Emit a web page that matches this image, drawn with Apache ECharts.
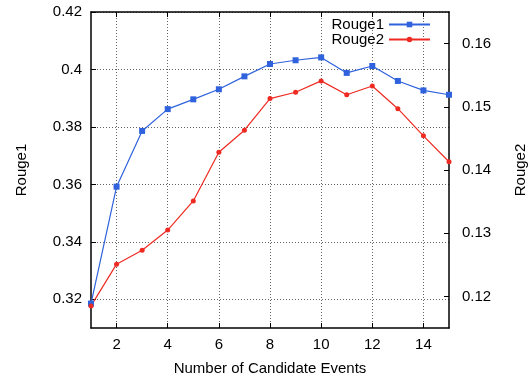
<!DOCTYPE html>
<html><head><meta charset="utf-8">
<script src="https://cdn.jsdelivr.net/npm/echarts@6/dist/echarts.min.js"></script>
<style>html,body{margin:0;padding:0;background:#fff}#c{width:531px;height:376px}</style>
</head><body><div id="c"></div>
<script>
const candidates = [1,2,3,4,5,6,7,8,9,10,11,12,13,14,15];
const rouge1 = [0.3185,0.3592,0.3786,0.3862,0.3896,0.3931,0.3976,0.4019,0.4032,0.4042,0.3988,0.4012,0.3960,0.3927,0.3912];
const rouge2 = [0.1185,0.1251,0.1273,0.1305,0.1351,0.1428,0.1463,0.1513,0.1523,0.1541,0.1519,0.1533,0.1497,0.1454,0.1413];
const xTicks = [2,4,6,8,10,12,14];
const leftTicks = [0.32,0.34,0.36,0.38,0.40,0.42];
const rightTicks = [0.12,0.13,0.14,0.15,0.16];

const FONT = 'Liberation Sans, Arial, sans-serif';
const fmt = v => String(+(+v).toFixed(2));
const axisLine = {show:true, lineStyle:{color:'#000', width:1.5}};
const chart = echarts.init(document.getElementById('c'));
chart.setOption({
  animation:false,
  textStyle:{fontFamily:FONT},
  grid:{left:91, top:12, right:82, bottom:48, containLabel:false, outerBoundsMode:'none'},
  legend:{
    right:100, top:17, orient:'vertical', align:'right', itemWidth:41, itemHeight:7, itemGap:0,
    textStyle:{fontSize:15, lineHeight:15, color:'#000', fontFamily:FONT}, padding:0,
    data:['Rouge1','Rouge2']
  },
  xAxis:[{
    type:'value', min:1, max:15, position:'bottom',
    name:'Number of Candidate Events', nameLocation:'middle', nameGap:33,
    nameTextStyle:{fontSize:15, color:'#000', fontFamily:FONT},
    axisLine:axisLine,
    axisTick:{show:true, inside:true, length:5, customValues:xTicks, lineStyle:{color:'#000', width:1}},
    axisLabel:{customValues:xTicks, fontSize:15, color:'#000', margin:9, fontFamily:FONT},
    splitLine:{show:true, lineStyle:{color:'#666', type:[1,2], width:1}}
  },{
    type:'value', min:1, max:15, position:'top',
    axisLine:axisLine,
    axisTick:{show:true, inside:true, length:5, customValues:xTicks, lineStyle:{color:'#000', width:1}},
    axisLabel:{show:false},
    splitLine:{show:false}
  }],
  yAxis:[{
    type:'value', min:0.31, max:0.42, position:'left',
    name:'Rouge1', nameLocation:'middle', nameGap:62, nameRotate:90,
    nameTextStyle:{fontSize:15, color:'#000', fontFamily:FONT},
    axisLine:axisLine,
    axisTick:{show:true, inside:true, length:5, customValues:leftTicks, lineStyle:{color:'#000', width:1}},
    axisLabel:{customValues:leftTicks, formatter:fmt, fontSize:15, color:'#000', margin:9, fontFamily:FONT},
    splitLine:{show:true, lineStyle:{color:'#666', type:[1,2], width:1}}
  },{
    type:'value', min:0.115, max:0.165, position:'right',
    name:'Rouge2', nameLocation:'middle', nameGap:64, nameRotate:90,
    nameTextStyle:{fontSize:15, color:'#000', fontFamily:FONT},
    axisLine:axisLine,
    axisTick:{show:true, inside:true, length:5, customValues:rightTicks, lineStyle:{color:'#000', width:1}},
    axisLabel:{customValues:rightTicks, formatter:fmt, fontSize:15, color:'#000', margin:13, fontFamily:FONT},
    splitLine:{show:false}
  }],
  series:[{
    name:'Rouge1', type:'line', xAxisIndex:0, yAxisIndex:0, clip:false,
    data:candidates.map((x,i)=>[x, rouge1[i]]),
    symbol:'rect', symbolSize:6, color:'#2f62dc',
    lineStyle:{width:1.2, color:'#2f62dc'}, itemStyle:{color:'#2f62dc'}
  },{
    name:'Rouge2', type:'line', xAxisIndex:0, yAxisIndex:1, clip:false,
    data:candidates.map((x,i)=>[x, rouge2[i]]),
    symbol:'circle', symbolSize:5, color:'#ee2a22',
    lineStyle:{width:1.2, color:'#ee2a22'}, itemStyle:{color:'#ee2a22'}
  }]
});
</script></body></html>
